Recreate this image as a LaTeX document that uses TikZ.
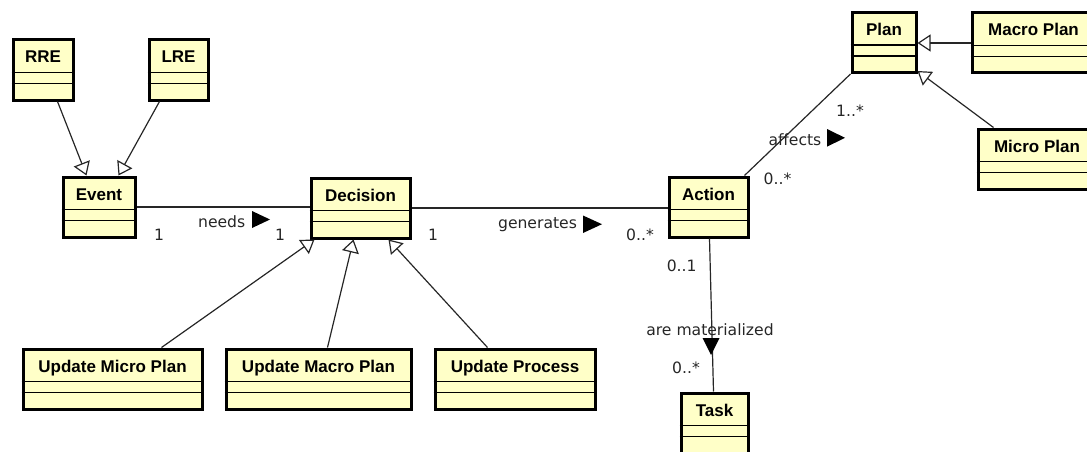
\documentclass[tikz,border=0pt]{standalone}
\usepackage{fontspec}
\usetikzlibrary{arrows.meta,calc}
\newfontfamily\titlefont{Liberation Sans}
\newfontfamily\labelfont{DejaVu Sans}
\definecolor{classfill}{HTML}{FFFFC8}

\tikzset{
  classbox/.style={draw=black, line width=3pt, fill=classfill, rectangle,
    inner sep=0pt, minimum height=60pt, anchor=north west},
  classtitle/.style={anchor=base, inner sep=0pt,
    font=\titlefont\bfseries\fontsize{17}{20}\selectfont},
  divider/.style={draw=black, line width=1.2pt},
  assoc/.style={draw=black!85, line width=1.2pt},
  gen/.style={assoc, -{Triangle[open, length=13pt, width=17pt, line width=1.2pt]}},
  lbl/.style={anchor=base, inner sep=0pt,
    font=\labelfont\fontsize{15.6}{18}\selectfont, text=black!85},
  dirmark/.style={fill=black}
}

% class box: name, left, top, right (outer edges), title
\newcommand\umlclass[5]{%
  \node[classbox, minimum width={#4-#2-3}] (#1) at ({#2+1.5},{#3+1.5}) {};
  \node[classtitle] (#1-title) at ($(#1.north)+(0,24.5)$) {#5};
  \draw[divider] ($(#1.north west)+(0,34)$) -- ($(#1.north east)+(0,34)$);
  \draw[divider] ($(#1.north west)+(0,45)$) -- ($(#1.north east)+(0,45)$);
}

\begin{document}
\begin{tikzpicture}[x=1pt, y=-1pt]
\clip (0,0) rectangle (1087,452);

% classes
\umlclass{rre}{10}{37}{73}{RRE}
\umlclass{lre}{146}{37}{208}{LRE}
\umlclass{event}{60}{174}{135}{Event}
\umlclass{decision}{308}{175}{410}{Decision}
\umlclass{action}{666}{174}{748}{Action}
\umlclass{plan}{849}{9.5}{916}{Plan}
\umlclass{macroplan}{969}{10}{1095}{Macro Plan}
\umlclass{microplan}{975}{126}{1096}{Micro Plan}
\umlclass{task}{678}{390}{748}{Task}
\umlclass{upmicro}{20}{346}{202}{Update Micro Plan}
\umlclass{upmacro}{223}{346}{411}{Update Macro Plan}
\umlclass{upproc}{432}{346}{595}{Update Process}

% generalizations
\draw[gen] ([xshift=14.5pt]rre.south) -- ([xshift=-12.5pt]event.north);
\draw[gen] ([xshift=-19pt]lre.south) -- ([xshift=19.5pt]event.north);
\draw[gen] (macroplan.west) -- (macroplan.west -| plan.east);
\draw[gen] ([xshift=-43.5pt]microplan.north) -- ([yshift=3pt]plan.south east);
\draw[gen] ([xshift=49pt]upmicro.north) -- ([xshift=-46pt]decision.south);
\draw[gen] ([xshift=9pt]upmacro.north) -- ([xshift=-7pt]decision.south);
\draw[gen] ([xshift=-27.5pt]upproc.north) -- ([xshift=28pt]decision.south);

% associations
\draw[assoc] (event.east) -- (event.east -| decision.west);
\draw[assoc] (decision.east) -- (decision.east -| action.west);
\draw[assoc] ([xshift=36pt]action.north) -- (plan.south west);
\draw[assoc] ([xshift=1pt]action.south) -- ([xshift=-1pt]task.north);

% association names and multiplicities
\node[lbl] (needs) at (221.7,227.3) {needs};
\fill[dirmark] (252,211) -- (252,228) -- (270,219.5) -- cycle;
\node[lbl] (m-ev) at (159,240) {1};
\node[lbl] (m-de1) at (280,240) {1};

\node[lbl] (generates) at (537.5,228.5) {generates};
\fill[dirmark] (583,215.5) -- (583,233) -- (602,224.2) -- cycle;
\node[lbl] (m-de2) at (433,240) {1};
\node[lbl] (m-ac1) at (640,240) {0..*};

\node[lbl] (affects) at (795,145) {affects};
\fill[dirmark] (827,129) -- (827,146.7) -- (845,137.8) -- cycle;
\node[lbl] (m-pl) at (850,116.7) {1..*};
\node[lbl] (m-ac2) at (777.5,184) {0..*};

\node[lbl] (materialized) at (710,335) {are materialized};
\fill[dirmark] (702.5,338) -- (719.5,338) -- (711,355) -- cycle;
\node[lbl] (m-ac3) at (681.7,271.7) {0..1};
\node[lbl] (m-ta) at (686,373.3) {0..*};
\end{tikzpicture}
\end{document}
